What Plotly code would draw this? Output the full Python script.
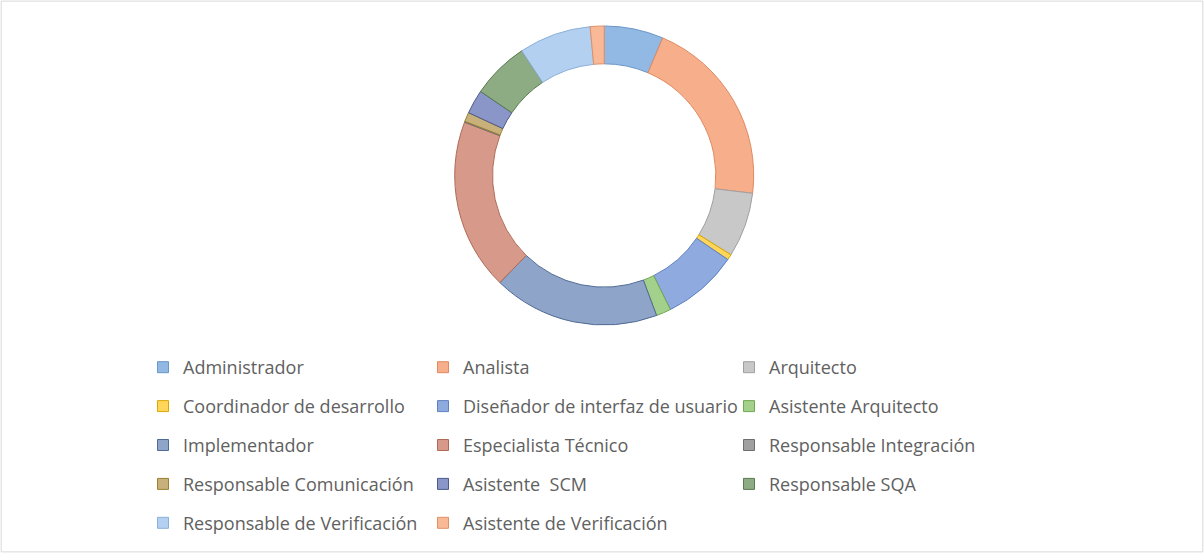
import plotly.graph_objects as go

categories = ["Administrador", "Analista", "Arquitecto", "Coordinador de desarrollo",
              "Diseñador de interfaz de usuario", "Asistente Arquitecto", "Implementador",
              "Especialista Técnico", "Responsable Integración", "Responsable Comunicación",
              "Asistente  SCM", "Responsable SQA", "Responsable de Verificación",
              "Asistente de Verificación"]
values = [6.4, 20.5, 7.0, 0.6, 8.2, 1.6, 18.0, 18.5, 0.1, 1.0, 2.6, 6.2, 7.8, 1.5]

fill_colors = ["#92b8e4", "#f6ae8b", "#c8c8c8", "#ffd659", "#8eaadf", "#a3d08b", "#8ea5c9",
               "#d6998a", "#a0a0a0", "#c8b07a", "#8a95c8", "#8eac84", "#b4d0f0", "#f9b996"]
line_colors = ["#6b96c8", "#e08a60", "#a0a0a0", "#d9a800", "#5f80c0", "#70a850", "#4f6a94",
               "#b06a55", "#6e6e6e", "#9a8030", "#4d5a8a", "#5a7a50", "#8ab0da", "#e09068"]

W, H = 1204, 553
cx, cy, R = 604.2, 175.5, 149.5

fig = go.Figure()
fig.add_trace(go.Pie(
    labels=categories, values=values, sort=False, direction="clockwise", rotation=0,
    hole=0.747, textinfo="none", hoverinfo="label+percent", showlegend=False,
    marker=dict(colors=fill_colors, line=dict(color=line_colors, width=1)),
    domain=dict(x=[(cx - R) / W, (cx + R) / W], y=[(H - cy - R) / H, (H - cy + R) / H]),
))

# legend entries (3 columns, row-major order as in the reference)
legend_ids = ["legend", "legend2", "legend3"]
for i, (name, fc, lc) in enumerate(zip(categories, fill_colors, line_colors)):
    fig.add_trace(go.Scatter(
        x=[None], y=[None], mode="markers", name=name,
        marker=dict(symbol="square", size=11, color=fc, line=dict(color=lc, width=1)),
        legend=legend_ids[i % 3], legendgroup=f"g{i}", showlegend=True, hoverinfo="skip",
    ))

legend_font = dict(family="Open Sans, Noto Sans, sans-serif", size=18, color="#616161")
col_text_x = [183, 463, 769]
top_y = 349
leg_common = dict(orientation="v", xanchor="left", yanchor="top", tracegroupgap=12.5,
                  font=legend_font, bgcolor="rgba(0,0,0,0)", itemclick=False,
                  itemdoubleclick=False)
fig.update_layout(
    legend=dict(x=(col_text_x[0] - 40) / W, y=(H - top_y) / H, **leg_common),
    legend2=dict(x=(col_text_x[1] - 40) / W, y=(H - top_y) / H, **leg_common),
    legend3=dict(x=(col_text_x[2] - 40) / W, y=(H - top_y) / H, **leg_common),
)

fig.update_layout(
    width=W, height=H,
    margin=dict(l=0, r=0, t=0, b=0),
    paper_bgcolor="white", plot_bgcolor="white",
    xaxis=dict(visible=False), yaxis=dict(visible=False),
    shapes=[dict(type="rect", xref="paper", yref="paper", x0=0.001, x1=0.999, y0=0.002,
                 y1=0.998, line=dict(color="#d9d9d9", width=1))],
)

fig.write_html("out.html", config={"displayModeBar": False},
               post_script="document.body.style.margin='0';document.body.style.overflow='hidden';")
